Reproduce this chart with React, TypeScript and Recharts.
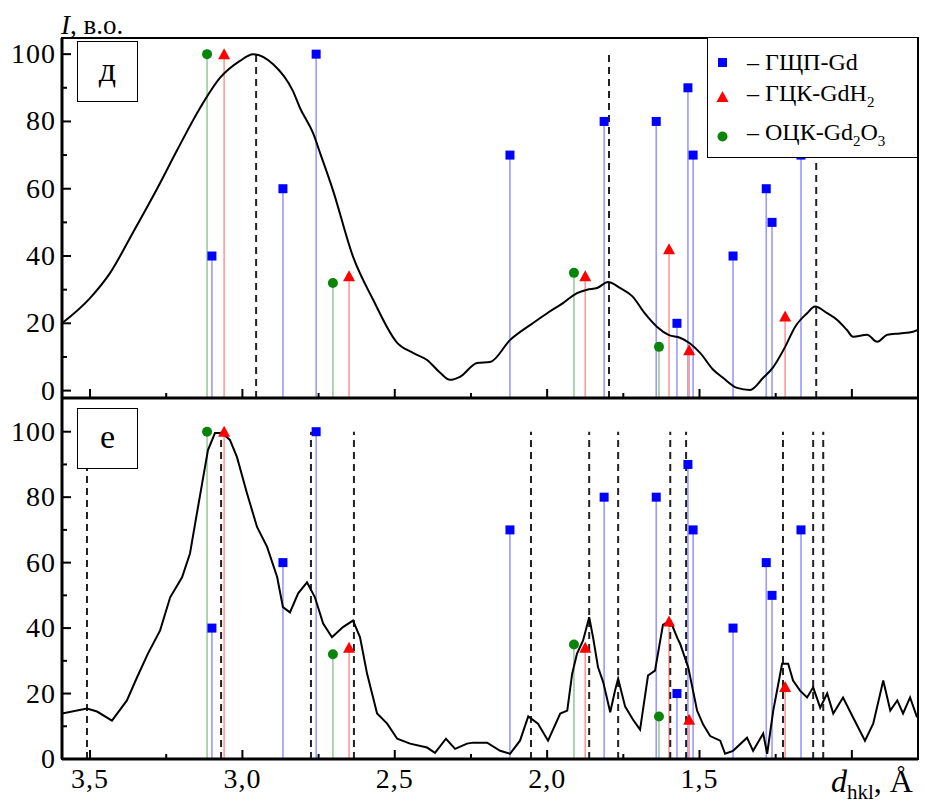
import {
  ComposedChart,
  Legend,
  Line,
  ReferenceArea,
  ReferenceLine,
  Scatter,
  XAxis,
  YAxis,
} from 'recharts'

const FONT = '"Liberation Serif", "Times New Roman", serif'
const PLOT_LEFT = 62

// d-spacing axis, Å (drawn right to left)
const X_MIN = 0.783
const X_MAX = 3.592
const X_TICKS = [3.5, 3.25, 3, 2.75, 2.5, 2.25, 2, 1.75, 1.5, 1.25, 1]
const X_LABELS = [3.5, 3, 2.5, 2, 1.5]
const Y_TICKS = [0, 10, 20, 30, 40, 50, 60, 70, 80, 90, 100]
const Y_LABELS = [0, 20, 40, 60, 80, 100]

// reference reflections: d (Å) and relative intensity
const hcpD = [3.1, 2.867, 2.758, 2.122, 1.813, 1.642, 1.574, 1.538, 1.521, 1.39, 1.281, 1.262, 1.167]
const hcpI = [40, 60, 100, 70, 80, 80, 20, 90, 70, 40, 60, 50, 70]
const fccD = [3.06, 2.65, 1.875, 1.6, 1.534, 1.219]
const fccI = [100, 34, 34, 42, 12, 22]
const bccD = [3.116, 2.703, 1.912, 1.633]
const bccI = [100, 32, 35, 13]

// measured peak positions (dashed markers)
const peaksD = [2.955, 1.797, 1.117]
const peaksE = [3.51, 3.07, 2.775, 2.634, 2.053, 1.862, 1.767, 1.596, 1.544, 1.226, 1.127, 1.094]

// diffraction profiles: [d, I]
const curveD: [number, number][] = [
  [3.592, 20], [3.5, 27.5], [3.434, 35], [3.359, 47], [3.28, 60], [3.214, 71.5],
  [3.139, 84], [3.073, 93], [3.008, 98], [2.965, 100], [2.899, 97], [2.834, 89],
  [2.811, 84], [2.768, 76.5], [2.745, 70.6], [2.703, 59.6], [2.637, 39.8], [2.571, 27],
  [2.492, 14.2], [2.44, 11.2], [2.394, 9.1], [2.351, 5.3], [2.319, 3.2], [2.286, 4.1],
  [2.23, 8.2], [2.187, 8.5], [2.122, 15], [2.046, 20.1], [2.0, 23], [1.948, 26],
  [1.902, 29], [1.869, 30], [1.836, 30.5], [1.8, 32.3], [1.761, 30.5], [1.72, 28],
  [1.68, 23], [1.64, 19], [1.6, 16.5], [1.564, 15.7], [1.531, 14], [1.498, 11.2],
  [1.455, 6.2], [1.423, 3.8], [1.377, 0.8], [1.334, 0.2], [1.291, 3.8], [1.258, 7],
  [1.219, 13], [1.186, 19], [1.147, 23], [1.121, 25], [1.081, 23], [1.048, 21],
  [1.016, 18], [0.996, 16], [0.95, 16.6], [0.917, 14.5], [0.884, 16.6], [0.842, 17],
  [0.799, 17.5], [0.783, 18],
]

const curveE: [number, number][] = [
  [3.592, 13.9], [3.51, 15.4], [3.477, 14.5], [3.428, 11.7], [3.379, 17.9], [3.346, 24.9],
  [3.31, 32.2], [3.27, 39.3], [3.237, 49.4], [3.198, 55.5], [3.172, 62.8], [3.155, 72],
  [3.132, 84.3], [3.113, 94.4], [3.09, 99.6], [3.067, 99.6], [3.041, 97.5], [3.018, 92.3],
  [2.985, 81.2], [2.952, 70.9], [2.919, 64.8], [2.886, 55.6], [2.867, 46.4], [2.844, 44.8],
  [2.817, 50.6], [2.788, 54], [2.762, 49.4], [2.735, 41.4], [2.706, 37.2], [2.67, 40.3],
  [2.637, 42.3], [2.614, 37.2], [2.591, 26.1], [2.558, 13.9], [2.525, 10.8], [2.492, 6.2],
  [2.45, 4.7], [2.394, 3.5], [2.368, 1.9], [2.332, 6.2], [2.302, 3.1], [2.263, 4.7],
  [2.243, 5], [2.197, 5], [2.154, 2.5], [2.122, 1.6], [2.089, 5.6], [2.062, 13],
  [2.03, 10.8], [1.997, 5.6], [1.957, 13.9], [1.934, 14.8], [1.918, 26], [1.902, 32.2],
  [1.882, 36.2], [1.862, 43.3], [1.849, 37], [1.833, 28], [1.816, 23.5], [1.793, 14.3],
  [1.777, 21], [1.767, 24.5], [1.744, 16], [1.718, 12], [1.695, 9], [1.669, 25.5],
  [1.646, 27], [1.62, 41], [1.596, 42.3], [1.573, 37], [1.564, 35.3], [1.537, 28],
  [1.508, 14.8], [1.488, 10.5], [1.465, 7], [1.432, 5.6], [1.416, 1.6], [1.39, 2.5],
  [1.344, 6.5], [1.324, 2.5], [1.291, 7.8], [1.278, 1.6], [1.258, 14.8], [1.229, 29.1],
  [1.209, 29.1], [1.193, 24], [1.17, 20.9], [1.147, 18.8], [1.127, 21.9], [1.104, 15.7],
  [1.081, 20], [1.061, 13.9], [1.029, 18.8], [0.996, 12.7], [0.957, 5.6], [0.93, 10.8],
  [0.897, 24], [0.874, 14.8], [0.851, 17.9], [0.832, 13.9], [0.809, 18.8], [0.786, 12.7],
]

type Pt = { d: number; I: number }
const zip = (ds: number[], is: number[]): Pt[] => ds.map((d, k) => ({ d, I: is[k] }))
const toPts = (c: [number, number][]): Pt[] => c.map(([d, I]) => ({ d, I }))

const square = (p: any) => (
  <rect x={p.cx - 4.5} y={p.cy - 4.5} width={9} height={9} fill="#0000ff" />
)
const triangle = (p: any) => (
  <polygon
    points={`${p.cx},${p.cy - 6} ${p.cx + 6},${p.cy + 5} ${p.cx - 6},${p.cy + 5}`}
    fill="#ff0000"
  />
)
const circle = (p: any) => <circle cx={p.cx} cy={p.cy} r={5} fill="#0b840b" />

const PHASES = [
  { key: 'hcp', data: zip(hcpD, hcpI), stick: '#9a9aff', shape: square },
  { key: 'fcc', data: zip(fccD, fccI), stick: '#ff9a9a', shape: triangle },
  { key: 'bcc', data: zip(bccD, bccI), stick: '#9acc9a', shape: circle },
]

const isHalf = (v: number) => Math.abs(v * 2 - Math.round(v * 2)) < 1e-6

// ticks point into the plot, labels sit outside
function XTick(props: any) {
  const { x, payload, labels, axisY } = props
  const v = payload.value
  const major = isHalf(v)
  const show = labels && X_LABELS.some((l) => Math.abs(l - v) < 1e-6)
  return (
    <g>
      <line x1={x} x2={x} y1={axisY} y2={axisY - (major ? 9 : 5)} stroke="#000" strokeWidth={2} />
      {show && (
        <text
          x={x}
          y={axisY + 29}
          textAnchor="middle"
          fontFamily={FONT}
          fontSize={28}
          letterSpacing={1}
          fill="#000"
        >
          {v.toFixed(1).replace('.', ',')}
        </text>
      )}
    </g>
  )
}

function YTick(props: any) {
  const { y, payload } = props
  const v = payload.value
  const major = Y_LABELS.includes(v)
  const x = PLOT_LEFT
  return (
    <g>
      <line x1={x} x2={x + (major ? 9 : 5)} y1={y} y2={y} stroke="#000" strokeWidth={2} />
      {major && (
        <text
          x={x - 6}
          y={y + 9}
          textAnchor="end"
          fontFamily={FONT}
          fontSize={28}
          letterSpacing={1}
          fill="#000"
        >
          {v}
        </text>
      )}
    </g>
  )
}

function LegendBox() {
  const sub = { fontSize: 15 }
  const rows = [
    { mark: <rect x={10} y={6} width={9} height={9} fill="#0000ff" />, text: <>– ГЩП-Gd</> },
    {
      mark: <polygon points="14.5,4 20.5,15 8.5,15" fill="#ff0000" />,
      text: <>– ГЦК-GdH<sub style={sub}>2</sub></>,
    },
    {
      mark: <circle cx={14.5} cy={10.5} r={5} fill="#0b840b" />,
      text: <>– ОЦК-Gd<sub style={sub}>2</sub>O<sub style={sub}>3</sub></>,
    },
  ]
  const tops = [12, 47, 86]
  return (
    <div
      style={{
        position: 'relative',
        width: 211,
        height: 121,
        boxSizing: 'border-box',
        border: '1.5px solid #000',
        background: '#fff',
        fontFamily: FONT,
        fontSize: 24,
        color: '#000',
      }}
    >
      {rows.map((r, k) => (
        <div
          key={k}
          style={{
            position: 'absolute',
            left: 0,
            top: tops[k],
            height: 24,
            display: 'flex',
            alignItems: 'center',
            whiteSpace: 'nowrap',
            lineHeight: '24px',
          }}
        >
          <svg width={30} height={21} style={{ marginRight: 9 }}>{r.mark}</svg>
          <span>{r.text}</span>
        </div>
      ))}
    </div>
  )
}

type PanelProps = {
  height: number
  margin: { top: number; right: number; bottom: number; left: number }
  xAxisHeight: number
  yDomain: [number, number]
  curve: Pt[]
  smooth: boolean
  peaks: number[]
  labels: boolean
  legend: boolean
}

function Panel({ height, margin, xAxisHeight, yDomain, curve, smooth, peaks, labels, legend }: PanelProps) {
  const axisY = height - margin.bottom - xAxisHeight
  return (
    <div style={{ position: 'absolute', left: 0, top: 0 }}>
      <ComposedChart width={925} height={height} margin={margin}>
        <XAxis
          type="number"
          dataKey="d"
          domain={[X_MIN, X_MAX]}
          reversed
          allowDataOverflow
          ticks={X_TICKS}
          interval={0}
          tickSize={0}
          tickMargin={0}
          height={xAxisHeight}
          axisLine={{ stroke: '#000', strokeWidth: 3 }}
          tickLine={false}
          tick={(p: any) => <XTick {...p} labels={labels} axisY={axisY} />}
        />
        <YAxis
          type="number"
          dataKey="I"
          domain={yDomain}
          allowDataOverflow
          ticks={Y_TICKS}
          interval={0}
          tickSize={0}
          tickMargin={0}
          width={PLOT_LEFT}
          axisLine={{ stroke: '#000', strokeWidth: 3 }}
          tickLine={false}
          tick={(p: any) => <YTick {...p} />}
        />
        <ReferenceArea
          x1={X_MIN}
          x2={X_MAX}
          y1={yDomain[0]}
          y2={yDomain[1]}
          fill="none"
          stroke="#000"
          strokeWidth={2}
        />
        {PHASES.map((ph) =>
          ph.data.map((r, k) => (
            <ReferenceLine
              key={`${ph.key}-${k}`}
              segment={[{ x: r.d, y: yDomain[0] }, { x: r.d, y: r.I }]}
              stroke={ph.stick}
              strokeWidth={1.6}
            />
          )),
        )}
        {peaks.map((d, k) => (
          <ReferenceLine
            key={`pk-${k}`}
            segment={[{ x: d, y: yDomain[0] }, { x: d, y: 100 }]}
            stroke="#222"
            strokeWidth={2}
            strokeDasharray="7 5"
          />
        ))}
        {PHASES.map((ph) => (
          <Scatter
            key={ph.key}
            name={ph.key}
            data={ph.data}
            shape={ph.shape}
            isAnimationActive={false}
          />
        ))}
        <Line
          data={curve}
          dataKey="I"
          type={smooth ? 'monotone' : 'linear'}
          stroke="#000"
          strokeWidth={2}
          dot={false}
          activeDot={false}
          isAnimationActive={false}
          legendType="none"
        />
        {legend && (
          <Legend
            layout="horizontal"
            verticalAlign="middle"
            align="center"
            wrapperStyle={{ left: 707, top: 37, width: 211, height: 121 }}
            content={() => <LegendBox />}
          />
        )}
      </ComposedChart>
    </div>
  )
}

const boxStyle = (top: number): React.CSSProperties => ({
  position: 'absolute',
  left: 77,
  top,
  width: 61,
  height: 61,
  boxSizing: 'border-box',
  border: '1.5px solid #000',
  background: '#fff',
  fontFamily: FONT,
  fontSize: 34,
  lineHeight: '56px',
  textAlign: 'center',
  color: '#000',
})

export default function App() {
  return (
    <div style={{ position: 'absolute', left: 0, top: 0, width: 925, height: 805, background: '#fff' }}>
      <Panel
        height={805}
        margin={{ top: 398, right: 7, bottom: 6, left: 0 }}
        xAxisHeight={40}
        yDomain={[0, 110.3]}
        curve={toPts(curveE)}
        smooth={false}
        peaks={peaksE}
        labels
        legend={false}
      />
      <Panel
        height={420}
        margin={{ top: 38, right: 7, bottom: 21, left: 0 }}
        xAxisHeight={1}
        yDomain={[-2.2, 104.8]}
        curve={toPts(curveD)}
        smooth
        peaks={peaksD}
        labels={false}
        legend
      />
      <div style={boxStyle(41)}>д</div>
      <div style={boxStyle(408)}>е</div>
      <div
        style={{
          position: 'absolute',
          left: 61,
          top: 12,
          fontFamily: FONT,
          fontSize: 27,
          lineHeight: '27px',
          color: '#000',
        }}
      >
        <i>I</i>, в.о.
      </div>
      <div
        style={{
          position: 'absolute',
          left: 831,
          top: 765,
          height: 36,
          fontFamily: FONT,
          fontSize: 32,
          lineHeight: '32px',
          color: '#000',
          whiteSpace: 'nowrap',
        }}
      >
        <i>d</i>
        <span style={{ fontSize: 21, position: 'relative', top: 7 }}>hkl</span>, Å
      </div>
    </div>
  )
}
